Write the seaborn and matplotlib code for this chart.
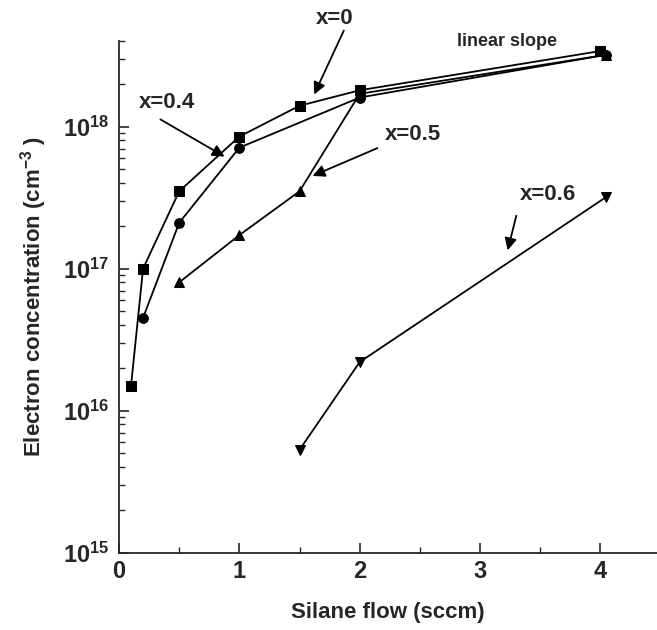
import matplotlib
matplotlib.use("Agg")
import matplotlib.pyplot as plt
import matplotlib.ticker as mticker
import seaborn as sns
import pandas as pd
import numpy as np

# ---- data ----
flow_x0 = [0.1, 0.2, 0.5, 1.0, 1.5, 2.0, 4.0]
conc_x0 = [1.5e16, 1.0e17, 3.5e17, 8.5e17, 1.4e18, 1.8e18, 3.4e18]

flow_x04 = [0.2, 0.5, 1.0, 2.0, 4.05]
conc_x04 = [4.5e16, 2.1e17, 7.1e17, 1.6e18, 3.2e18]

flow_x05 = [0.5, 1.0, 1.5, 2.0, 4.05]
conc_x05 = [8.0e16, 1.72e17, 3.5e17, 1.7e18, 3.2e18]

flow_x06 = [1.5, 2.0, 4.05]
conc_x06 = [5.3e15, 2.2e16, 3.2e17]

series_names = ["x=0", "x=0.4", "x=0.5", "x=0.6"]

df = pd.concat([
    pd.DataFrame({"flow": flow_x0, "conc": conc_x0, "series": series_names[0]}),
    pd.DataFrame({"flow": flow_x04, "conc": conc_x04, "series": series_names[1]}),
    pd.DataFrame({"flow": flow_x05, "conc": conc_x05, "series": series_names[2]}),
    pd.DataFrame({"flow": flow_x06, "conc": conc_x06, "series": series_names[3]}),
], ignore_index=True)

sns.set_style("ticks")
plt.rcParams["font.family"] = ["Liberation Sans", "DejaVu Sans"]
plt.rcParams["mathtext.fontset"] = "custom"
plt.rcParams["mathtext.bf"] = "Liberation Sans:bold"
plt.rcParams["mathtext.rm"] = "Liberation Sans"

fig = plt.figure(figsize=(6.57, 6.30), dpi=100)
ax = fig.add_axes([119 / 657, 1 - 552.7 / 630, 1 - 119 / 657, (552.7 - 41) / 630])

markers = {"x=0": "s", "x=0.4": "o", "x=0.5": "^", "x=0.6": "v"}
sns.lineplot(data=df, x="flow", y="conc", style="series", markers=markers,
             dashes=False, color="black", sort=False, estimator=None,
             markersize=7, linewidth=1.3, markeredgecolor="black",
             legend=False, ax=ax)

ax.set_yscale("log")
ax.set_xlim(0, 4.47)
ax.set_ylim(1e15, 4e18)

ax.xaxis.set_major_locator(mticker.MultipleLocator(1))
ax.xaxis.set_minor_locator(mticker.MultipleLocator(0.5))
ax.yaxis.set_major_locator(mticker.LogLocator(base=10, numticks=10))
ax.yaxis.set_minor_locator(mticker.LogLocator(base=10, subs=np.arange(2, 10), numticks=20))
ax.yaxis.set_minor_formatter(mticker.NullFormatter())
ax.yaxis.set_major_formatter(mticker.FuncFormatter(
    lambda v, p: r"$\mathbf{10^{%d}}$" % int(round(np.log10(v)))))
ax.xaxis.set_major_formatter(mticker.FuncFormatter(lambda v, p: "%d" % v))

ax.tick_params(which="major", direction="in", length=7, width=1.2)
ax.tick_params(which="minor", direction="in", length=4, width=1.0)
ax.tick_params(axis="y", which="major", pad=7, labelsize=17)
ax.tick_params(axis="x", which="major", pad=5, labelsize=17)
for lab in ax.get_xticklabels():
    lab.set_fontweight("bold")

for s in ["top", "right"]:
    ax.spines[s].set_visible(False)
for s in ["left", "bottom"]:
    ax.spines[s].set_linewidth(1.3)

ax.set_xlabel("Silane flow (sccm)", fontsize=16, fontweight="bold", labelpad=14)
ax.set_ylabel(r"Electron concentration (cm$^{\mathbf{-3}}$ )", fontsize=16,
              fontweight="bold", labelpad=10)

arrow = dict(arrowstyle="-|>", color="black", lw=1.3, mutation_scale=18)

def ann(text, xy_px, xytext_px, tx_px, ty_px, fs=16, weight="bold"):
    ax.annotate("", xy=(xy_px[0] / 657, 1 - xy_px[1] / 630), xycoords="figure fraction",
                xytext=(xytext_px[0] / 657, 1 - xytext_px[1] / 630),
                textcoords="figure fraction", arrowprops=arrow)
    fig.text(tx_px / 657, 1 - ty_px / 630, text, fontsize=fs, fontweight=weight,
             ha="center", va="center")

ann("x=0", (313, 97), (345, 28), 335, 18)
ann("x=0.4", (227, 158), (158, 118), 167, 103)
ann("x=0.5", (310, 177), (380, 147), 413, 135)
ann("x=0.6", (507, 253), (517, 213), 548, 195)
fig.text(507 / 657, 1 - 42 / 630, "linear slope", fontsize=13, fontweight="bold",
         ha="center", va="center")

fig.savefig("out.png", dpi=100)
